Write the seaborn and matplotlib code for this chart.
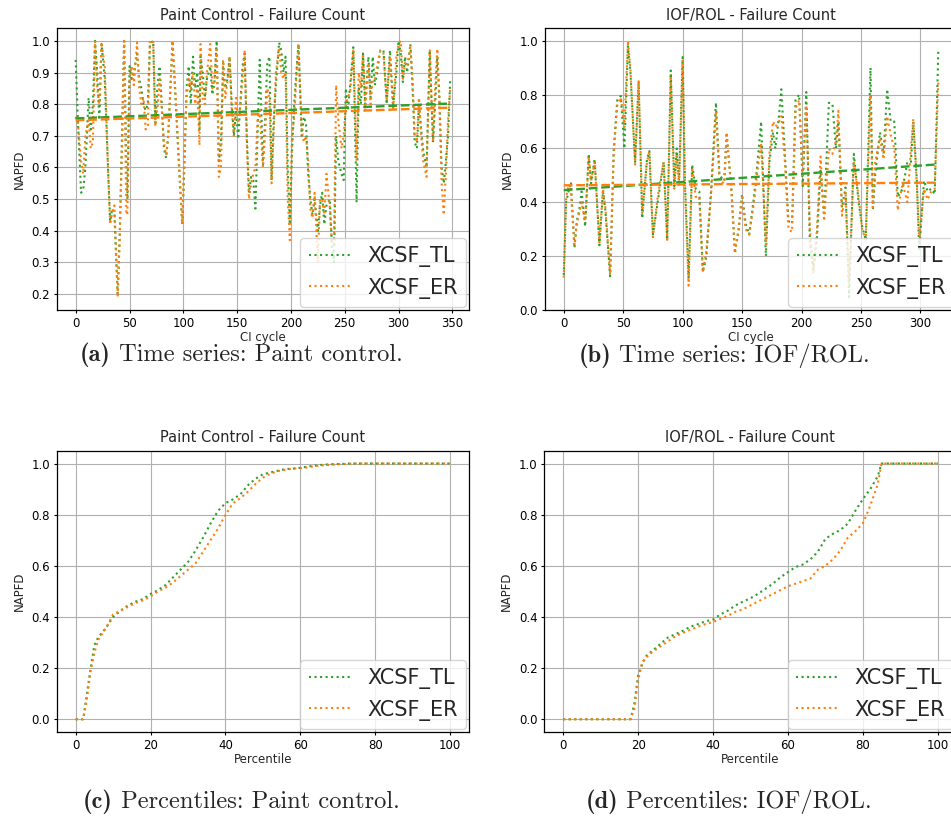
import matplotlib
matplotlib.use("Agg")
import matplotlib.pyplot as plt
from matplotlib.ticker import MultipleLocator
import seaborn as sns

# Paint Control - NAPFD per CI cycle (turning points)
pc_cycle = [0, 2, 5, 7, 9, 12, 14, 16, 18, 20,
            22, 24, 27, 30, 32, 34, 36, 39, 41, 43,
            45, 47, 48, 50, 52, 54, 57, 59, 61, 63,
            65, 67, 69, 72, 74, 76, 78, 80, 82, 84,
            86, 90, 93, 96, 99, 101, 103, 105, 107, 109,
            111, 113, 115, 116, 118, 120, 122, 125, 127, 129,
            131, 133, 135, 137, 139, 141, 143, 145, 147, 149,
            151, 153, 155, 157, 159, 161, 163, 165, 167, 169,
            171, 174, 176, 178, 180, 182, 184, 186, 189, 191,
            193, 195, 197, 199, 201, 203, 205, 207, 210, 212,
            214, 216, 218, 220, 222, 225, 227, 229, 231, 233,
            236, 238, 240, 242, 244, 247, 249, 251, 253, 255,
            258, 261, 263, 265, 267, 269, 272, 274, 276, 278,
            280, 283, 286, 289, 292, 295, 298, 300, 302, 304,
            306, 308, 311, 313, 315, 317, 319, 321, 323, 326,
            329, 332, 334, 336, 338, 340, 342, 344, 346, 348]
pc_tl = [0.94, 0.75, 0.52, 0.53, 0.60, 0.82, 0.72, 0.80, 1.00, 0.90,
         0.75, 0.99, 0.88, 0.60, 0.43, 0.47, 0.45, 0.20, 0.40, 0.70,
         1.00, 0.62, 0.50, 0.92, 0.88, 0.90, 0.96, 0.88, 0.85, 0.80,
         0.78, 0.80, 0.99, 1.00, 0.74, 0.86, 0.92, 0.80, 0.66, 0.63,
         0.70, 1.00, 0.80, 0.60, 0.42, 0.60, 0.85, 0.92, 0.80, 0.95,
         0.85, 0.90, 0.72, 0.95, 0.90, 0.82, 0.88, 0.92, 0.83, 0.87,
         1.00, 0.62, 0.68, 0.93, 0.85, 0.88, 0.95, 0.80, 0.70, 0.78,
         0.69, 0.80, 0.92, 0.96, 0.70, 0.52, 0.57, 0.56, 0.47, 0.70,
         0.94, 0.61, 0.75, 0.93, 0.95, 0.56, 0.75, 0.86, 0.995, 0.97,
         0.90, 0.95, 0.60, 0.42, 0.65, 0.80, 0.90, 0.99, 0.70, 0.76,
         0.74, 0.58, 0.50, 0.45, 0.50, 0.40, 0.48, 0.52, 0.42, 0.48,
         0.50, 0.36, 0.30, 0.70, 0.62, 0.58, 0.56, 0.85, 0.78, 0.86,
         0.98, 0.49, 0.85, 0.80, 0.96, 0.80, 0.95, 0.82, 0.95, 0.86,
         0.90, 0.97, 0.97, 0.80, 0.97, 0.80, 0.90, 1.00, 0.96, 0.87,
         0.95, 0.90, 0.99, 0.85, 0.68, 0.66, 0.80, 0.72, 0.65, 0.60,
         0.97, 0.68, 0.80, 0.95, 0.82, 0.60, 0.55, 0.62, 0.70, 0.88]
pc_er = [0.76, 0.74, 0.62, 0.58, 0.70, 0.75, 0.66, 0.68, 1.00, 0.85,
         0.80, 0.995, 0.92, 0.60, 0.42, 0.46, 0.48, 0.19, 0.38, 0.65,
         1.00, 0.46, 0.45, 0.88, 0.92, 0.86, 0.995, 0.85, 0.80, 0.82,
         0.72, 0.73, 1.00, 1.00, 0.73, 0.79, 0.88, 0.78, 0.68, 0.64,
         0.70, 1.00, 0.82, 0.62, 0.42, 0.65, 0.82, 0.88, 0.85, 0.90,
         0.80, 0.85, 0.67, 0.99, 0.82, 0.80, 0.90, 0.99, 0.85, 0.88,
         0.98, 0.57, 0.60, 0.94, 0.82, 0.87, 0.95, 0.78, 0.70, 0.82,
         0.74, 0.80, 0.88, 0.97, 0.68, 0.50, 0.55, 0.58, 0.60, 0.75,
         0.78, 0.60, 0.70, 0.85, 0.82, 0.55, 0.72, 0.90, 0.98, 0.90,
         0.88, 0.90, 0.50, 0.37, 0.70, 0.76, 0.88, 0.99, 0.72, 0.68,
         0.70, 0.62, 0.47, 0.44, 0.52, 0.30, 0.50, 0.50, 0.45, 0.58,
         0.48, 0.36, 0.36, 0.86, 0.75, 0.66, 0.70, 0.80, 0.82, 0.84,
         0.97, 0.62, 0.90, 0.85, 0.96, 0.78, 0.93, 0.80, 0.88, 0.88,
         0.92, 0.97, 0.96, 0.81, 0.95, 0.78, 0.95, 0.99, 1.00, 0.88,
         0.93, 0.92, 0.98, 0.88, 0.70, 0.68, 0.82, 0.70, 0.62, 0.57,
         0.97, 0.68, 0.85, 0.975, 0.80, 0.55, 0.45, 0.58, 0.75, 0.85]
pc_trend_tl = [0.755, 0.802]
pc_trend_er = [0.749, 0.789]

# IOF/ROL - NAPFD per CI cycle
io_cycle = [0, 2, 4, 6, 9, 11, 13, 15, 18, 21,
            23, 26, 30, 33, 35, 39, 42, 45, 48, 51,
            54, 56, 60, 63, 66, 70, 72, 75, 79, 84,
            87, 90, 93, 95, 97, 100, 102, 105, 108, 111,
            114, 117, 120, 124, 128, 131, 135, 137, 141, 144,
            147, 150, 153, 156, 160, 163, 166, 170, 173, 176,
            178, 181, 183, 186, 189, 192, 195, 198, 201, 204,
            207, 210, 213, 216, 219, 223, 226, 229, 231, 234,
            237, 240, 244, 248, 251, 254, 258, 260, 262, 266,
            269, 272, 275, 278, 281, 285, 289, 292, 294, 297,
            299, 303, 306, 309, 312, 315]
io_tl = [0.13, 0.40, 0.44, 0.475, 0.23, 0.33, 0.37, 0.44, 0.31, 0.58,
         0.47, 0.56, 0.24, 0.44, 0.37, 0.125, 0.59, 0.78, 0.795, 0.60,
         0.98, 0.89, 0.55, 0.85, 0.34, 0.56, 0.59, 0.28, 0.40, 0.55,
         0.26, 0.89, 0.46, 0.60, 0.48, 0.94, 0.47, 0.12, 0.54, 0.45,
         0.44, 0.14, 0.20, 0.45, 0.77, 0.50, 0.48, 0.65, 0.45, 0.21,
         0.30, 0.43, 0.32, 0.28, 0.42, 0.55, 0.70, 0.20, 0.55, 0.66,
         0.60, 0.72, 0.82, 0.58, 0.33, 0.32, 0.78, 0.80, 0.46, 0.81,
         0.25, 0.15, 0.27, 0.52, 0.35, 0.77, 0.765, 0.60, 0.70, 0.38,
         0.455, 0.047, 0.58, 0.40, 0.31, 0.26, 0.90, 0.37, 0.505, 0.66,
         0.58, 0.82, 0.70, 0.70, 0.42, 0.45, 0.55, 0.55, 0.70, 0.48,
         0.22, 0.48, 0.44, 0.45, 0.43, 0.96]
io_er = [0.12, 0.42, 0.46, 0.44, 0.24, 0.32, 0.36, 0.40, 0.33, 0.57,
         0.48, 0.55, 0.25, 0.45, 0.38, 0.13, 0.58, 0.76, 0.79, 0.68,
         1.00, 0.90, 0.54, 0.85, 0.36, 0.55, 0.59, 0.27, 0.42, 0.55,
         0.26, 0.87, 0.45, 0.58, 0.46, 0.93, 0.45, 0.09, 0.53, 0.42,
         0.42, 0.14, 0.22, 0.43, 0.74, 0.48, 0.47, 0.66, 0.44, 0.22,
         0.29, 0.42, 0.30, 0.28, 0.40, 0.52, 0.62, 0.24, 0.58, 0.70,
         0.68, 0.70, 0.72, 0.55, 0.30, 0.29, 0.75, 0.78, 0.50, 0.76,
         0.30, 0.14, 0.30, 0.57, 0.33, 0.60, 0.58, 0.63, 0.74, 0.35,
         0.44, 0.10, 0.55, 0.42, 0.30, 0.26, 0.80, 0.38, 0.55, 0.64,
         0.56, 0.72, 0.65, 0.60, 0.37, 0.47, 0.40, 0.60, 0.71, 0.46,
         0.26, 0.45, 0.41, 0.44, 0.45, 0.85]
io_trend_tl = [0.445, 0.541]
io_trend_er = [0.463, 0.473]

# Percentiles of NAPFD
pc_pct = [0, 2, 3, 4, 5, 6, 8, 10, 12, 14, 16, 18, 20, 22, 24, 26, 28, 30,
          32, 34, 36, 38, 40, 42, 44, 46, 48, 50, 52, 54, 56, 58, 60, 62,
          64, 66, 68, 70, 72, 74, 80, 90, 100]
pc_pct_tl = [0.0, 0.0, 0.10, 0.20, 0.29, 0.32, 0.355, 0.40, 0.425, 0.445,
             0.46, 0.47, 0.49, 0.505, 0.525, 0.555, 0.585, 0.615, 0.66, 0.71,
             0.765, 0.815, 0.845, 0.86, 0.88, 0.915, 0.94, 0.958, 0.965, 0.972,
             0.978, 0.98, 0.983, 0.988, 0.992, 0.995, 0.997, 0.998, 0.999, 1.0,
             1.0, 1.0, 1.0]
pc_pct_er = [0.0, 0.0, 0.08, 0.19, 0.26, 0.31, 0.355, 0.41, 0.425, 0.44,
             0.455, 0.465, 0.48, 0.50, 0.515, 0.535, 0.56, 0.585, 0.61, 0.655,
             0.70, 0.745, 0.80, 0.845, 0.865, 0.89, 0.92, 0.945, 0.96, 0.97,
             0.976, 0.98, 0.982, 0.985, 0.99, 0.993, 0.995, 0.997, 0.998, 1.0,
             1.0, 1.0, 1.0]

io_pct = [0, 10, 18, 19, 20, 21, 22, 24, 26, 28, 30, 32, 34, 36, 38, 40, 42,
          44, 46, 48, 50, 52, 54, 56, 58, 60, 62, 64, 66, 68, 70, 72, 74, 76,
          78, 80, 82, 84, 85, 90, 100]
io_pct_tl = [0.0, 0.0, 0.0, 0.06, 0.17, 0.21, 0.245, 0.27, 0.295, 0.32,
             0.333, 0.346, 0.362, 0.372, 0.383, 0.39, 0.41, 0.425, 0.445, 0.46,
             0.473, 0.49, 0.51, 0.53, 0.555, 0.575, 0.595, 0.605, 0.625, 0.655,
             0.705, 0.725, 0.74, 0.765, 0.815, 0.86, 0.90, 0.95, 1.0, 1.0, 1.0]
io_pct_er = [0.0, 0.0, 0.0, 0.04, 0.15, 0.22, 0.24, 0.265, 0.285, 0.305,
             0.325, 0.338, 0.35, 0.362, 0.372, 0.38, 0.393, 0.405, 0.42, 0.43,
             0.445, 0.46, 0.475, 0.49, 0.505, 0.52, 0.53, 0.54, 0.55, 0.585,
             0.60, 0.625, 0.66, 0.71, 0.735, 0.765, 0.835, 0.92, 1.0, 1.0, 1.0]

GREEN = "#2ca02c"
ORANGE = "#ff7f0e"


def draw_panel(ax, x, tl, er, title, xlabel, ystep, xstep, trend=None):
    sns.lineplot(x=x, y=tl, color=GREEN, linestyle=":", linewidth=1.5,
                 label="XCSF_TL", ax=ax)
    sns.lineplot(x=x, y=er, color=ORANGE, linestyle=":", linewidth=1.5,
                 label="XCSF_ER", ax=ax)
    handles = [ax.lines[0], ax.lines[1]]
    if trend is not None:
        ends = [x[0], x[-1]]
        sns.lineplot(x=ends, y=trend[0], color=GREEN, linestyle="--",
                     linewidth=1.7, ax=ax)
        sns.lineplot(x=ends, y=trend[1], color=ORANGE, linestyle="--",
                     linewidth=1.7, ax=ax)

    ax.set_title(title)
    ax.set_xlabel(xlabel, labelpad=1.0)
    ax.set_ylabel("NAPFD")
    ax.xaxis.set_major_locator(MultipleLocator(xstep))
    ax.yaxis.set_major_locator(MultipleLocator(ystep))
    ax.grid(True)
    ax.legend(handles=handles, labels=["XCSF_TL", "XCSF_ER"], loc="lower right",
              fontsize=15, borderaxespad=0.15)


def add_caption(fig, cx, base_y, tag, text, size=17.6):
    # bold tag + roman text, centred as one line
    renderer = fig.canvas.get_renderer()
    y = 1 - base_y / 818
    t1 = fig.text(0, y, tag, fontfamily="cmb10", fontsize=size, va="baseline")
    t2 = fig.text(0, y, " " + text, fontfamily="cmr10", fontsize=size,
                  va="baseline")
    w1 = t1.get_window_extent(renderer).width
    w2 = t2.get_window_extent(renderer).width
    x0 = cx - (w1 + w2) / 2
    t1.set_x(x0 / 951)
    t2.set_x((x0 + w1) / 951)


def main():
    sns.set_style("ticks", {"axes.grid": True, "grid.color": "#b0b0b0",
                            "axes.edgecolor": "black"})
    plt.rcParams.update({
        "font.family": ["DejaVu Sans"],
        "xtick.labelsize": 8.5,
        "ytick.labelsize": 8.5,
        "axes.labelsize": 8.5,
        "axes.titlesize": 10.5,
        "axes.linewidth": 0.9,
        "grid.linewidth": 0.8,
        "xtick.major.size": 2.5,
        "ytick.major.size": 2.5,
        "xtick.major.pad": 2.5,
        "ytick.major.pad": 2.5,
        "xtick.major.width": 0.8,
        "ytick.major.width": 0.8,
        "xtick.color": "black",
        "ytick.color": "black",
    })

    fig = plt.figure(figsize=(9.51, 8.18), dpi=100)
    ax_a = fig.add_axes([0.0599, 0.621, 0.4332, 0.3447])
    ax_b = fig.add_axes([0.5731, 0.621, 0.4332, 0.3447])
    ax_c = fig.add_axes([0.0599, 0.1051, 0.4332, 0.3439])
    ax_d = fig.add_axes([0.5725, 0.1051, 0.4332, 0.3439])

    draw_panel(ax_a, pc_cycle, pc_tl, pc_er, "Paint Control - Failure Count",
               "CI cycle", 0.1, 50, trend=(pc_trend_tl, pc_trend_er))
    draw_panel(ax_b, io_cycle, io_tl, io_er, "IOF/ROL - Failure Count",
               "CI cycle", 0.2, 50, trend=(io_trend_tl, io_trend_er))
    draw_panel(ax_c, pc_pct, pc_pct_tl, pc_pct_er, "Paint Control - Failure Count",
               "Percentile", 0.2, 20)
    draw_panel(ax_d, io_pct, io_pct_tl, io_pct_er, "IOF/ROL - Failure Count",
               "Percentile", 0.2, 20)

    add_caption(fig, 241, 361, "(a)", "Time series: Paint control.")
    add_caption(fig, 724, 362, "(b)", "Time series: IOF/ROL.")
    add_caption(fig, 241, 808, "(c)", "Percentiles: Paint control.")
    add_caption(fig, 729, 808, "(d)", "Percentiles: IOF/ROL.")

    fig.savefig("out.png", dpi=100)


if __name__ == "__main__":
    main()
